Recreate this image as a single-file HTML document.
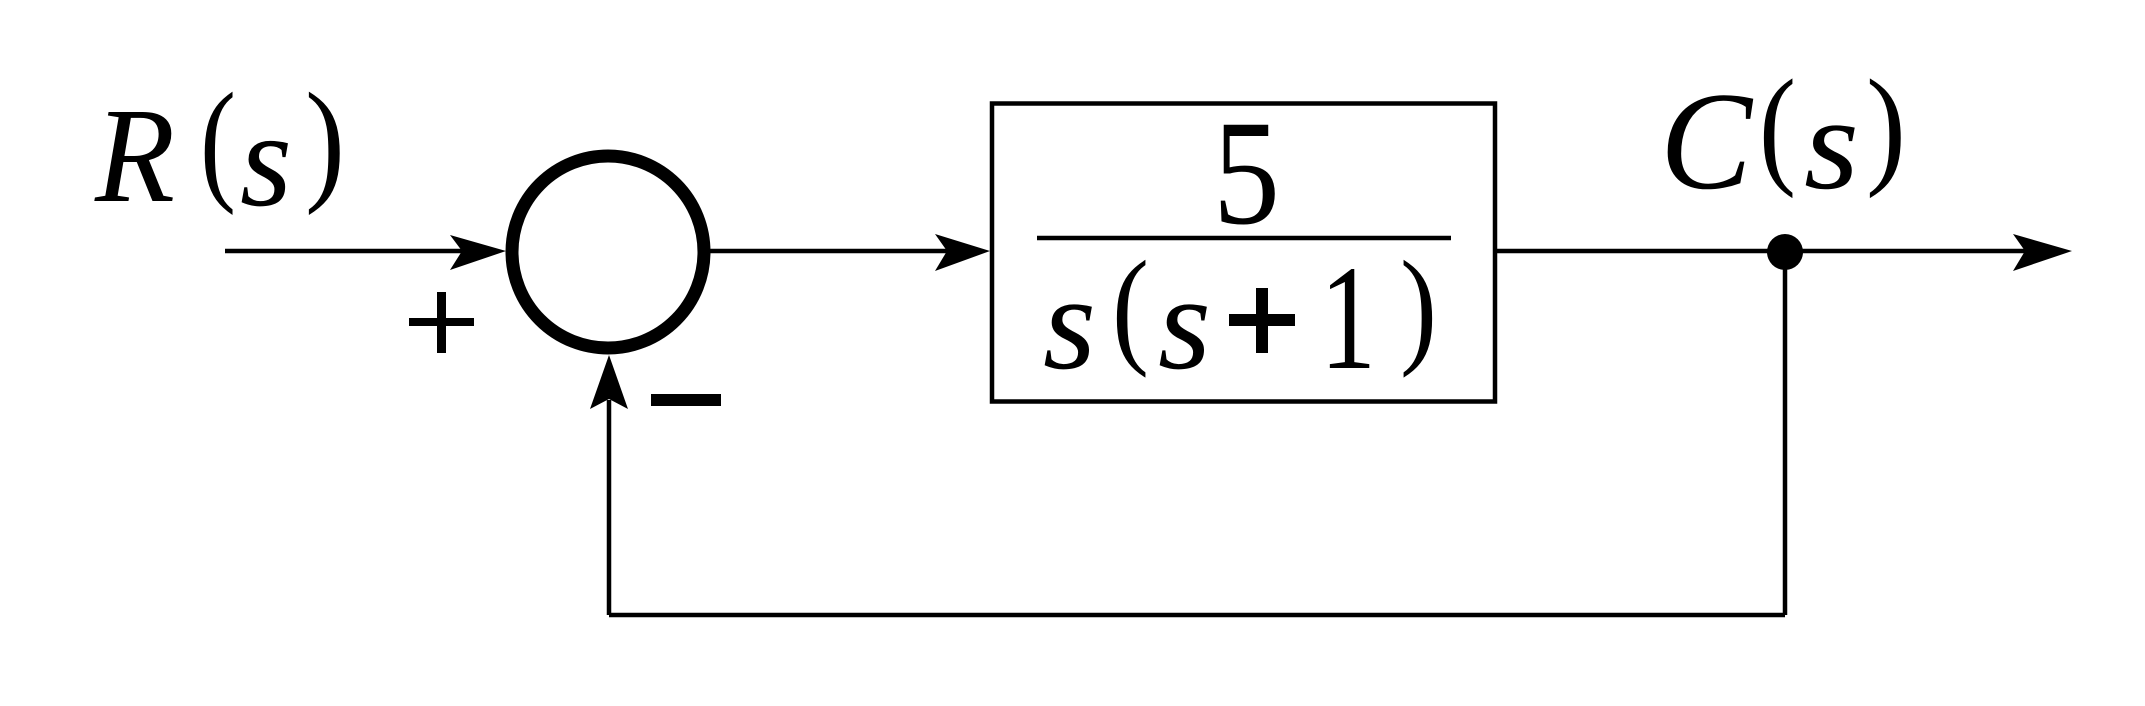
<!DOCTYPE html>
<html><head><meta charset="utf-8"><style>
html,body{margin:0;padding:0;background:#fff;}
svg{display:block;}
text{font-family:"Liberation Serif",serif;fill:#000;}
</style></head><body>
<svg width="2145" height="706" viewBox="0 0 2145 706" xmlns="http://www.w3.org/2000/svg">
<rect width="2145" height="706" fill="#fff"/>
<g stroke="#000" stroke-width="4.5" fill="none">
  <line x1="225" y1="251" x2="470" y2="251"/>
  <line x1="710" y1="251" x2="960" y2="251"/>
  <line x1="1495" y1="251" x2="2040" y2="251"/>
  <rect x="992" y="103.5" width="503" height="298"/>
  <line x1="1785" y1="251" x2="1785" y2="615"/>
  <line x1="1785" y1="615" x2="609" y2="615"/>
  <line x1="609" y1="615" x2="609" y2="400"/>
  <ellipse cx="608" cy="252" rx="96" ry="96" stroke-width="13"/>
  <line x1="1037" y1="238" x2="1451" y2="238"/>
</g>
<!-- arrowheads -->
<path d="M506,251 L450,235 L462,251 L450,270 Z" fill="#000"/>
<path d="M990,251 L935,234 L947,251 L935,271 Z" fill="#000"/>
<path d="M2072,251 L2013,234 L2025,251 L2013,271 Z" fill="#000"/>
<path d="M609,355 L590,409 L609,399 L628,409 Z" fill="#000"/>
<ellipse cx="1785" cy="252" rx="18" ry="18" fill="#000"/>
<!-- + and - near summing junction -->
<rect x="409" y="318" width="65" height="8" fill="#000"/>
<rect x="437" y="292" width="9" height="61" fill="#000"/>
<rect x="651" y="394" width="70" height="12" fill="#000"/>
<!-- R(s) -->
<text x="95" y="201" font-size="136" font-style="italic" textLength="80" lengthAdjust="spacingAndGlyphs">R</text>
<text x="200" y="186" font-size="136" textLength="36" lengthAdjust="spacingAndGlyphs">(</text>
<text x="240" y="205" font-size="136" font-style="italic" textLength="52" lengthAdjust="spacingAndGlyphs">s</text>
<text x="305" y="186" font-size="136" textLength="40" lengthAdjust="spacingAndGlyphs">)</text>
<!-- transfer function -->
<text x="1213" y="223" font-size="150" textLength="67" lengthAdjust="spacingAndGlyphs">5</text>
<text x="1043" y="368" font-size="135" font-style="italic" textLength="53" lengthAdjust="spacingAndGlyphs">s</text>
<text x="1112" y="350" font-size="130" textLength="37" lengthAdjust="spacingAndGlyphs">(</text>
<text x="1158" y="368" font-size="135" font-style="italic" textLength="53" lengthAdjust="spacingAndGlyphs">s</text>
<rect x="1229" y="314" width="66" height="12" fill="#000"/>
<rect x="1256" y="288" width="12" height="65" fill="#000"/>
<text x="1320" y="368" font-size="150" textLength="56" lengthAdjust="spacingAndGlyphs">1</text>
<text x="1400" y="350" font-size="130" textLength="37" lengthAdjust="spacingAndGlyphs">)</text>
<!-- C(s) -->
<text x="1660" y="188" font-size="140" font-style="italic" textLength="92" lengthAdjust="spacingAndGlyphs">C</text>
<text x="1759" y="170" font-size="132" textLength="37" lengthAdjust="spacingAndGlyphs">(</text>
<text x="1804" y="188" font-size="133" font-style="italic" textLength="55" lengthAdjust="spacingAndGlyphs">s</text>
<text x="1866" y="170" font-size="132" textLength="40" lengthAdjust="spacingAndGlyphs">)</text>
</svg>
</body></html>
